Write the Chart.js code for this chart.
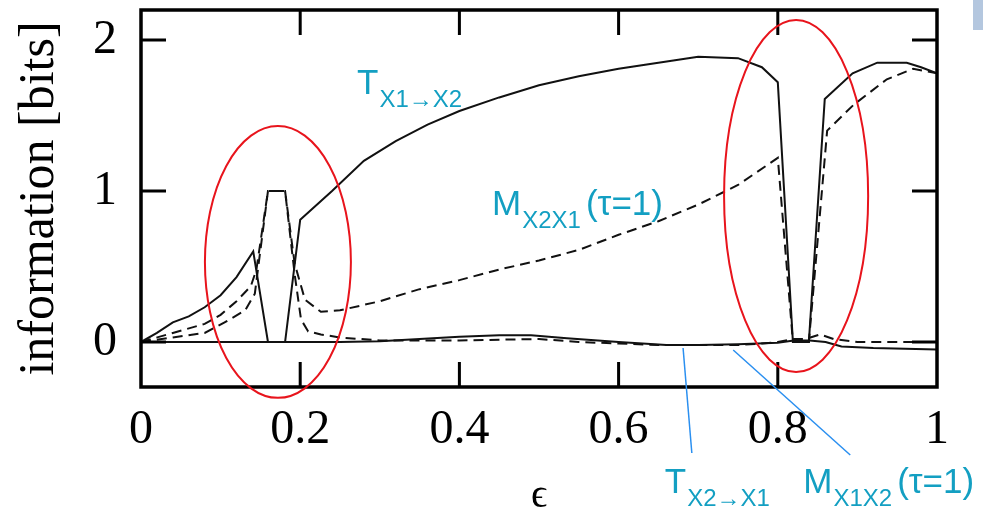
<!DOCTYPE html>
<html>
<head>
<meta charset="utf-8">
<script src="https://cdn.jsdelivr.net/npm/chart.js@4/dist/chart.umd.min.js"></script>
<style>
  html, body { margin: 0; padding: 0; background: #fff; }
  #wrap { position: relative; width: 983px; height: 509px; }
  #corner { position: absolute; left: 973px; top: 0; width: 10px; height: 30px; background: #b4c7df; }
</style>
</head>
<body>
<div id="wrap">
  <canvas id="chart" width="983" height="509"></canvas>
  <div id="corner"></div>
</div>
<script>
"use strict";

// T X1->X2 (upper solid line)
const epsT12 = [0, 0.02, 0.04, 0.06, 0.08, 0.10, 0.12, 0.141, 0.1595, 0.181, 0.20, 0.24, 0.28, 0.32, 0.36, 0.40, 0.45, 0.50, 0.55, 0.60, 0.65, 0.70, 0.75, 0.78, 0.80, 0.819, 0.839, 0.859, 0.894, 0.925, 0.962, 0.98, 1.0];
const valT12 = [0, 0.06, 0.13, 0.17, 0.23, 0.31, 0.43, 0.60, 0, 0, 0.81, 1.00, 1.20, 1.33, 1.44, 1.53, 1.62, 1.70, 1.76, 1.81, 1.85, 1.89, 1.88, 1.82, 1.72, 0, 0, 1.61, 1.78, 1.85, 1.85, 1.82, 1.78];

// T X2->X1 (lower solid line)
const epsT21 = [0, 0.10, 0.20, 0.25, 0.30, 0.35, 0.40, 0.45, 0.49, 0.535, 0.60, 0.66, 0.70, 0.75, 0.80, 0.82, 0.84, 0.86, 0.88, 0.92, 0.96, 1.0];
const valT21 = [0, 0, 0, 0, 0.005, 0.02, 0.035, 0.045, 0.045, 0.025, 0, -0.02, -0.02, -0.015, -0.005, 0.01, 0.01, 0, -0.03, -0.04, -0.045, -0.05];

// M X2X1 (tau=1), upper dashed line
const epsM21 = [0, 0.04, 0.08, 0.10, 0.12, 0.138, 0.145, 0.1595, 0.181, 0.193, 0.206, 0.226, 0.25, 0.30, 0.35, 0.40, 0.45, 0.50, 0.55, 0.60, 0.65, 0.70, 0.75, 0.80, 0.819, 0.839, 0.862, 0.895, 0.937, 0.97, 1.0];
const valM21 = [0, 0.06, 0.12, 0.18, 0.27, 0.37, 0.48, 1.0, 1.0, 0.52, 0.28, 0.20, 0.21, 0.27, 0.35, 0.41, 0.48, 0.54, 0.61, 0.71, 0.80, 0.91, 1.04, 1.22, 0, 0, 1.40, 1.57, 1.74, 1.81, 1.78];

// M X1X2 (tau=1), lower dashed line
const epsM12 = [0, 0.04, 0.08, 0.105, 0.131, 0.143, 0.1595, 0.181, 0.193, 0.201, 0.21, 0.226, 0.25, 0.30, 0.40, 0.50, 0.55, 0.60, 0.65, 0.70, 0.75, 0.78, 0.80, 0.82, 0.835, 0.853, 0.87, 0.90, 1.0];
const valM12 = [0, 0.03, 0.06, 0.13, 0.21, 0.32, 1.0, 1.0, 0.45, 0.15, 0.07, 0.05, 0.03, 0.01, 0.01, 0.02, 0, -0.01, -0.02, -0.02, -0.02, -0.01, 0, 0.02, 0.02, 0.05, 0.02, 0, 0];

const xTicks = [0, 0.2, 0.4, 0.6, 0.8, 1];
const yTicks = [0, 1, 2];

const CYAN = "#139fc2";
const SERIF = "'Liberation Serif', 'DejaVu Serif', serif";
const SANS = "'Liberation Sans', Arial, sans-serif";

function pts(xs, ys) {
  return xs.map((x, i) => ({ x, y: ys[i] }));
}

function lineSet(label, xs, ys, dashed) {
  return {
    label,
    data: pts(xs, ys),
    borderColor: "#111",
    borderWidth: 2,
    borderDash: dashed ? [10, 6] : [],
    pointRadius: 0,
    tension: 0,
    fill: false,
  };
}

// annotations, in data coordinates
const labels = [
  { x: 0.2714, y: 1.642, main: "T", sub: "X1\u2192X2", tail: "" },
  { x: 0.441, y: 0.841, main: "M", sub: "X2X1", tail: "(\u03c4=1)" },
  { x: 0.658, y: -1.0, main: "T", sub: "X2\u2192X1", tail: "" },
  { x: 0.832, y: -1.0, main: "M", sub: "X1X2", tail: "(\u03c4=1)" },
];
const leaders = [
  [0.681, -0.040, 0.692, -0.735],
  [0.744, -0.053, 0.891, -0.748],
];
const ellipses = [
  { x: 0.172, y: 0.53, rx: 0.0917, ry: 0.90 },
  { x: 0.823, y: 0.967, rx: 0.0905, ry: 1.166 },
];

const framePlugin = {
  id: "frame",
  afterDatasetsDraw(chart) {
    const { ctx, chartArea: a, scales: { x, y } } = chart;
    ctx.save();
    ctx.strokeStyle = "#000";
    ctx.lineWidth = 3.5;
    ctx.strokeRect(a.left, a.top, a.right - a.left, a.bottom - a.top);
    ctx.lineWidth = 3;
    ctx.beginPath();
    xTicks.slice(1, -1).forEach((v) => {
      const px = x.getPixelForValue(v);
      ctx.moveTo(px, a.top); ctx.lineTo(px, a.top + 25);
      ctx.moveTo(px, a.bottom); ctx.lineTo(px, a.bottom - 25);
    });
    yTicks.forEach((v) => {
      const py = y.getPixelForValue(v);
      ctx.moveTo(a.left, py); ctx.lineTo(a.left + 25, py);
      ctx.moveTo(a.right, py); ctx.lineTo(a.right - 25, py);
    });
    ctx.stroke();
    ctx.restore();
  },
};

const notePlugin = {
  id: "notes",
  afterDraw(chart) {
    const { ctx, scales: { x, y } } = chart;
    ctx.save();
    ctx.strokeStyle = "#e8141c";
    ctx.lineWidth = 2;
    ellipses.forEach((e) => {
      const cx = x.getPixelForValue(e.x), cy = y.getPixelForValue(e.y);
      const rx = x.getPixelForValue(e.x + e.rx) - cx;
      const ry = cy - y.getPixelForValue(e.y + e.ry);
      ctx.beginPath();
      ctx.ellipse(cx, cy, rx, ry, 0, 0, Math.PI * 2);
      ctx.stroke();
    });
    ctx.strokeStyle = "#2a8ff0";
    ctx.lineWidth = 1.5;
    leaders.forEach((l) => {
      ctx.beginPath();
      ctx.moveTo(x.getPixelForValue(l[0]), y.getPixelForValue(l[1]));
      ctx.lineTo(x.getPixelForValue(l[2]), y.getPixelForValue(l[3]));
      ctx.stroke();
    });
    ctx.fillStyle = CYAN;
    ctx.textBaseline = "alphabetic";
    labels.forEach((l) => {
      let px = x.getPixelForValue(l.x);
      const py = y.getPixelForValue(l.y);
      ctx.font = "35px " + SANS;
      ctx.fillText(l.main, px, py);
      px += ctx.measureText(l.main).width + 1;
      ctx.font = "24px " + SANS;
      ctx.fillText(l.sub, px, py + 13);
      px += ctx.measureText(l.sub).width + 5;
      if (l.tail) {
        ctx.font = "35px " + SANS;
        ctx.fillText(l.tail, px, py);
      }
    });
    ctx.restore();
  },
};

new Chart(document.getElementById("chart"), {
  type: "line",
  data: {
    datasets: [
      lineSet("T X1->X2", epsT12, valT12, false),
      lineSet("T X2->X1", epsT21, valT21, false),
      lineSet("M X2X1", epsM21, valM21, true),
      lineSet("M X1X2", epsM12, valM12, true),
    ],
  },
  options: {
    responsive: false,
    animation: false,
    layout: { padding: { top: 10, right: 46, left: 0, bottom: 0 } },
    plugins: { legend: { display: false }, tooltip: { enabled: false } },
    scales: {
      x: {
        type: "linear",
        min: 0,
        max: 1,
        grid: { display: false, drawTicks: false },
        border: { display: false },
        afterBuildTicks: (s) => { s.ticks = xTicks.map((v) => ({ value: v })); },
        afterFit: (s) => { s.height = 122; s.paddingLeft = 0; s.paddingRight = 0; },
        ticks: {
          color: "#000", padding: 15, maxRotation: 0,
          font: { family: SERIF, size: 48 },
          callback: (v) => String(v),
        },
        title: {
          display: true,
          text: "\u03f5",
          color: "#000",
          padding: { top: 0, bottom: -7 },
          font: { family: SERIF, size: 40, lineHeight: 1 },
        },
      },
      y: {
        type: "linear",
        min: -0.298,
        max: 2.199,
        grid: { display: false, drawTicks: false },
        border: { display: false },
        afterBuildTicks: (s) => { s.ticks = yTicks.map((v) => ({ value: v })); },
        afterFit: (s) => { s.width = 141; s.paddingTop = 0; s.paddingBottom = 0; },
        ticks: { color: "#000", padding: 24, font: { family: SERIF, size: 48 }, callback: (v) => String(v) },
        title: {
          display: true,
          text: "information [bits]",
          color: "#000",
          padding: { top: 10, bottom: 0 },
          font: { family: SERIF, size: 50 },
        },
      },
    },
  },
  plugins: [framePlugin, notePlugin],
});
</script>
</body>
</html>
